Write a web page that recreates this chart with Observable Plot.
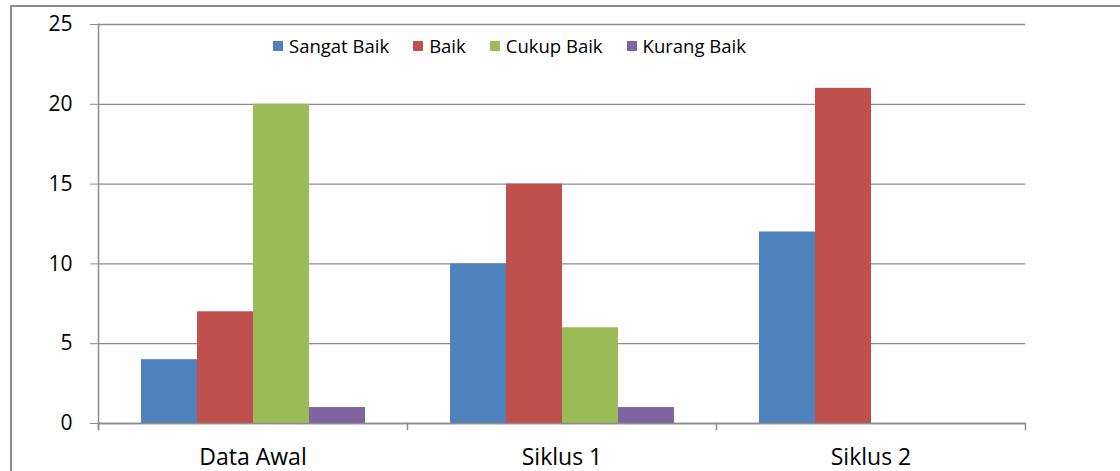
<!DOCTYPE html>
<html>
<head>
<meta charset="utf-8">
<script src="https://cdn.jsdelivr.net/npm/d3@7"></script>
<script src="https://cdn.jsdelivr.net/npm/@observablehq/plot@0.6"></script>
<style>
  html, body { margin: 0; padding: 0; background: #fff; }
  #wrap { position: relative; width: 1120px; height: 471px; overflow: hidden; font-family: "Open Sans", sans-serif; }
  #border { position: absolute; left: 10px; top: 5px; width: 1200px; height: 600px; border-left: 2px solid #8c8c8c; border-top: 2px solid #8c8c8c; }
  #legend { position: absolute; top: 33px; left: 273px; display: flex; font-size: 18.5px; color: #000; }
  #legend .item { display: flex; align-items: center; margin-right: 24px; }
  #legend .sw { width: 10px; height: 10px; margin-right: 6px; }
  #chart { position: absolute; left: 0; top: 0; }
</style>
</head>
<body>
<div id="wrap">
  <div id="border"></div>
  <div id="chart"></div>
  <div id="legend"></div>
</div>
<script>
const categories = ["Data Awal", "Siklus 1", "Siklus 2"];
const series = ["Sangat Baik", "Baik", "Cukup Baik", "Kurang Baik"];
const sangatBaik = [4, 10, 12];
const baik = [7, 15, 21];
const cukupBaik = [20, 6, 0];
const kurangBaik = [1, 1, 0];
const yTicks = [0, 5, 10, 15, 20, 25];
const colors = ["#4F81BD", "#C0504D", "#9BBB59", "#8064A2"];

const seriesValues = [sangatBaik, baik, cukupBaik, kurangBaik];
const data = categories.flatMap((c, i) =>
  series.map((s, j) => ({ category: c, series: s, value: seriesValues[j][i] }))
);

const W = 1120, H = 471;
const mt = 24, mb = 48, ml = 98, mr = 95;
const plotH = H - mt - mb;

const chart = Plot.plot({
  width: W,
  height: H,
  marginTop: mt,
  marginBottom: mb,
  marginLeft: ml,
  marginRight: mr,
  style: { fontFamily: "'Open Sans', sans-serif", fontSize: "21px", color: "#000", background: "transparent" },
  fx: { domain: categories, padding: 0, label: null },
  x: { domain: series, paddingInner: 0, paddingOuter: 0.75, axis: null },
  y: { domain: [0, 25], ticks: yTicks, label: null },
  color: { domain: series, range: colors },
  marks: [
    Plot.gridY(yTicks, { stroke: "#8c8c8c", strokeOpacity: 1, strokeWidth: 1.3 }),
    Plot.barY(data.filter(d => d.value > 0), { fx: "category", x: "series", y: "value", fill: "series" }),
    Plot.ruleY([0], { stroke: "#8c8c8c", strokeWidth: 1.5 }),
    Plot.axisY({ ticks: yTicks, tickSize: 8, tickPadding: 18, stroke: "#8c8c8c", fill: "#000", fontSize: 21, label: null }),
    Plot.frame({ anchor: "left", facetAnchor: "left", insetBottom: -6, stroke: "#8c8c8c", strokeWidth: 1.5 }),
    Plot.frame({ anchor: "left", insetTop: plotH, insetBottom: -6, stroke: "#8c8c8c", strokeWidth: 1.5 }),
    Plot.frame({ anchor: "right", facetAnchor: "right", insetTop: plotH, insetBottom: -6, stroke: "#8c8c8c", strokeWidth: 1.5 }),
    Plot.axisFx({ anchor: "bottom", tickSize: 0, tickPadding: 25, fontSize: 23, label: null, fill: "#000" })
  ]
});
document.getElementById("chart").appendChild(chart);

const legend = document.getElementById("legend");
series.forEach((s, i) => {
  const item = document.createElement("div");
  item.className = "item";
  const sw = document.createElement("div");
  sw.className = "sw";
  sw.style.background = colors[i];
  const lbl = document.createElement("span");
  lbl.textContent = s;
  item.appendChild(sw);
  item.appendChild(lbl);
  legend.appendChild(item);
});
</script>
</body>
</html>
